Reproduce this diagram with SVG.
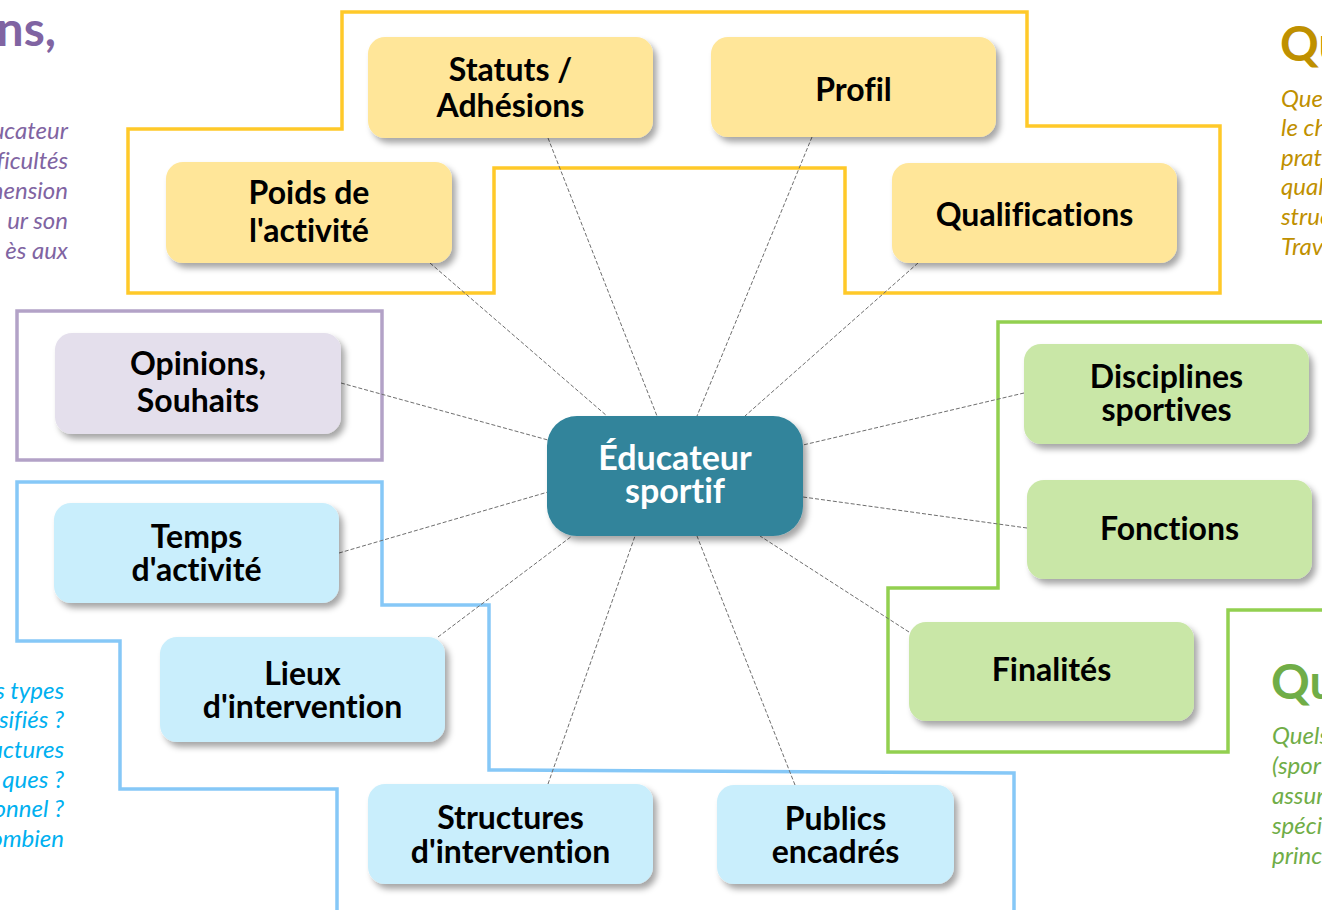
<svg xmlns="http://www.w3.org/2000/svg" width="1322" height="910" viewBox="0 0 1322 910">
<defs>
<filter id="sh" x="-10%" y="-10%" width="125%" height="135%">
<feDropShadow dx="4" dy="5" stdDeviation="3" flood-color="#000" flood-opacity="0.35"/>
</filter>
<style>
text{font-variant-ligatures:none}
.lbl{font-family:Lato,"Liberation Sans",sans-serif;font-weight:700;font-size:32px;fill:#000;text-anchor:middle}
.ctr{font-family:Lato,"Liberation Sans",sans-serif;font-weight:700;font-size:34px;fill:#fff;text-anchor:middle}
.y{fill:#ffe699;filter:url(#sh)}
.p{fill:#e4dfec;filter:url(#sh)}
.b{fill:#c9eefc;filter:url(#sh)}
.g{fill:#c9e7a7;filter:url(#sh)}
.frame{fill:none;stroke-width:3.5}
.conn line{stroke:#6e6e6e;stroke-width:1;stroke-dasharray:4 2}
.it{font-family:Lato,"Liberation Sans",sans-serif;font-style:italic;font-size:24px;white-space:pre}
.big{font-family:Lato,"Liberation Sans",sans-serif;font-weight:700;font-size:48px}
</style>
</defs>
<rect width="1322" height="910" fill="#fff"/>

<g id="side-texts">
<text class="big" x="56" y="46" fill="#8064a2" text-anchor="end">ns,</text>
<g class="it" fill="#8064a2" text-anchor="end">
<text x="68" y="139">ucateur</text>
<text x="68" y="169">ficultés</text>
<text x="68" y="199">nension</text>
<text x="68" y="229">ur  son</text>
<text x="68" y="259">ès  aux</text>
</g>
<g class="it" fill="#00b0f0" text-anchor="end">
<text x="64" y="699">s types</text>
<text x="64" y="728">sifiés  ?</text>
<text x="64" y="758">uctures</text>
<text x="64" y="788">ques  ?</text>
<text x="64" y="817">onnel ?</text>
<text x="64" y="847">ombien</text>
</g>
<text class="big" x="1280" y="61" fill="#bf9000">Qu</text>
<g class="it" fill="#bf9000">
<text x="1281" y="107">Que</text>
<text x="1281" y="136">le ch</text>
<text x="1281" y="166">prat</text>
<text x="1281" y="195">qual</text>
<text x="1281" y="225">struc</text>
<text x="1281" y="255">Trav</text>
</g>
<text class="big" x="1271" y="699" fill="#70ad47">Qu</text>
<g class="it" fill="#70ad47">
<text x="1272" y="744">Quels</text>
<text x="1272" y="774">(spor</text>
<text x="1272" y="804">assur</text>
<text x="1272" y="834">spéci</text>
<text x="1272" y="864">princ</text>
</g>
</g>

<g id="frames">
<polygon class="frame" stroke="#ffc929" points="342,12 1027,12 1027,126 1220,126 1220,293 845,293 845,168 494,168 494,293 128,293 128,129 342,129"/>
<rect class="frame" stroke="#b3a2c7" x="17" y="311" width="365" height="149"/>
<polyline class="frame" stroke="#86c8f7" points="337,912 337,789 120,789 120,641 17,641 17,482 382,482 382,605 489,605 489,770 1014,773 1014,912"/>
<polyline class="frame" stroke="#92d050" points="1324,322 998,322 998,588 888,588 888,752 1228,752 1228,610 1324,610"/>
</g>

<g id="connectors" class="conn">
<line x1="548" y1="138" x2="657" y2="416"/>
<line x1="812" y1="137" x2="697" y2="416"/>
<line x1="430" y1="263" x2="607" y2="416"/>
<line x1="918" y1="263" x2="745" y2="416"/>
<line x1="341" y1="383" x2="548" y2="440"/>
<line x1="339" y1="553" x2="548" y2="492"/>
<line x1="438" y1="637" x2="572" y2="536"/>
<line x1="548" y1="784" x2="635" y2="536"/>
<line x1="795" y1="785" x2="697" y2="536"/>
<line x1="909" y1="632" x2="760" y2="536"/>
<line x1="1027" y1="528" x2="803" y2="497"/>
<line x1="1024" y1="393" x2="803" y2="445"/>
</g>

<g id="node-statuts"><rect class="y" x="368" y="37" width="285" height="101" rx="17"/><text class="lbl" x="510.5" y="81">Statuts /</text><text class="lbl" x="510.5" y="117">Adhésions</text></g>
<g id="node-profil"><rect class="y" x="711" y="37" width="285" height="100" rx="17"/><text class="lbl" x="853.5" y="101">Profil</text></g>
<g id="node-poids"><rect class="y" x="166" y="162" width="286" height="101" rx="17"/><text class="lbl" x="309" y="204">Poids de</text><text class="lbl" x="309" y="242">l'activité</text></g>
<g id="node-qualifications"><rect class="y" x="892" y="163" width="285" height="100" rx="17"/><text class="lbl" x="1034.5" y="226">Qualifications</text></g>
<g id="node-opinions"><rect class="p" x="55" y="333" width="286" height="101" rx="17"/><text class="lbl" x="198" y="375">Opinions,</text><text class="lbl" x="198" y="412">Souhaits</text></g>
<g id="node-temps"><rect class="b" x="54" y="503" width="285" height="100" rx="17"/><text class="lbl" x="196.5" y="548">Temps</text><text class="lbl" x="196.5" y="581">d'activité</text></g>
<g id="node-lieux"><rect class="b" x="160" y="637" width="285" height="105" rx="17"/><text class="lbl" x="302.5" y="685">Lieux</text><text class="lbl" x="302.5" y="718">d'intervention</text></g>
<g id="node-structures"><rect class="b" x="368" y="784" width="285" height="100" rx="17"/><text class="lbl" x="510.5" y="829">Structures</text><text class="lbl" x="510.5" y="863">d'intervention</text></g>
<g id="node-publics"><rect class="b" x="717" y="785" width="237" height="99" rx="17"/><text class="lbl" x="835.5" y="830">Publics</text><text class="lbl" x="835.5" y="863">encadrés</text></g>
<g id="node-disciplines"><rect class="g" x="1024" y="344" width="285" height="100" rx="17"/><text class="lbl" x="1166.5" y="388">Disciplines</text><text class="lbl" x="1166.5" y="421">sportives</text></g>
<g id="node-fonctions"><rect class="g" x="1027" y="480" width="285" height="99" rx="17"/><text class="lbl" x="1169.5" y="540">Fonctions</text></g>
<g id="node-finalites"><rect class="g" x="909" y="622" width="285" height="99" rx="17"/><text class="lbl" x="1051.5" y="681">Finalités</text></g>
<g id="node-center"><rect x="547" y="416" width="256" height="120" rx="30" fill="#31849b" filter="url(#sh)"/><text class="ctr" x="675" y="470">Éducateur</text><text class="ctr" x="675" y="503">sportif</text></g>
</svg>
